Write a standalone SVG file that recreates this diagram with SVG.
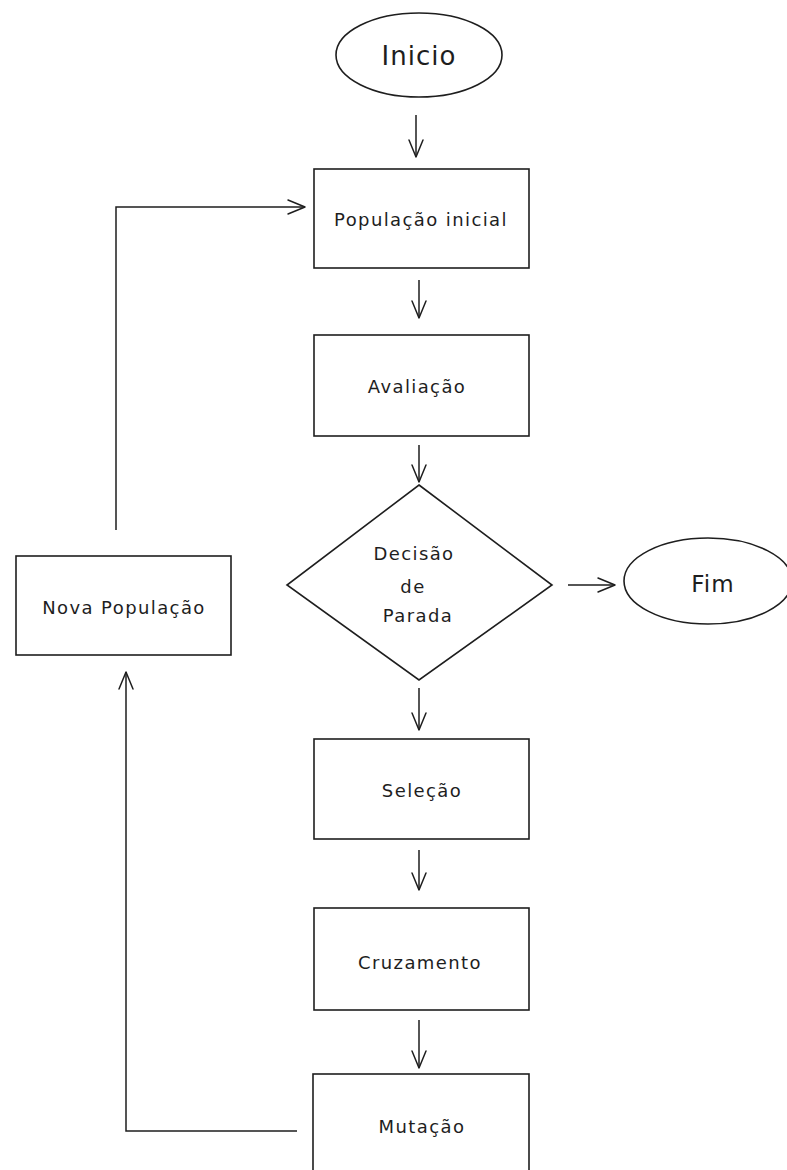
<svg xmlns="http://www.w3.org/2000/svg" width="787" height="1170" viewBox="0 0 787 1170">
<defs>
<marker id="arr" viewBox="0 0 20 20" refX="18" refY="10" markerWidth="20" markerHeight="20" markerUnits="userSpaceOnUse" orient="auto">
<path d="M1,3 L18,10 L1,17" fill="none" stroke="#1e1e1e" stroke-width="1.5" stroke-linecap="round" stroke-linejoin="round"/>
</marker>
<style>
.shape{fill:#ffffff;stroke:#1e1e1e;stroke-width:1.6}
.lbl{font-family:"DejaVu Sans","Liberation Sans",sans-serif;font-size:18px;fill:#1e1e1e;text-anchor:middle;dominant-baseline:central;letter-spacing:1.4px}
.conn{fill:none;stroke:#1e1e1e;stroke-width:1.5;marker-end:url(#arr)}
</style>
</defs>
<rect width="787" height="1170" fill="#ffffff"/>
<g id="connectors">
<line class="conn" x1="416" y1="115" x2="416" y2="157"/>
<line class="conn" x1="419" y1="280" x2="419" y2="318"/>
<line class="conn" x1="419" y1="445" x2="419" y2="482"/>
<line class="conn" x1="568" y1="585" x2="615" y2="585"/>
<line class="conn" x1="419" y1="688" x2="419" y2="730"/>
<line class="conn" x1="419" y1="850" x2="419" y2="890"/>
<line class="conn" x1="419" y1="1020" x2="419" y2="1068"/>
<polyline class="conn" points="116,530 116,207 305,207"/>
<polyline class="conn" points="297,1131 126,1131 126,672"/>
</g>
<g id="inicio">
<ellipse class="shape" cx="419" cy="55" rx="83" ry="42"/>
<text class="lbl" x="419" y="56" style="font-size:26px;letter-spacing:1px">Inicio</text>
</g>
<g id="populacao-inicial">
<rect class="shape" x="314" y="169" width="215" height="99"/>
<text class="lbl" x="421" y="219">População inicial</text>
</g>
<g id="avaliacao">
<rect class="shape" x="314" y="335" width="215" height="101"/>
<text class="lbl" x="417" y="386">Avaliação</text>
</g>
<g id="decisao">
<polygon class="shape" points="419,485 552,585 419,680 287,585"/>
<text class="lbl" x="414" y="553">Decisão</text>
<text class="lbl" x="413" y="586">de</text>
<text class="lbl" x="418" y="615">Parada</text>
</g>
<g id="fim">
<ellipse class="shape" cx="708" cy="581" rx="84" ry="43"/>
<text class="lbl" x="713" y="584" style="font-size:23px;letter-spacing:1px">Fim</text>
</g>
<g id="nova-populacao">
<rect class="shape" x="16" y="556" width="215" height="99"/>
<text class="lbl" x="124" y="607">Nova População</text>
</g>
<g id="selecao">
<rect class="shape" x="314" y="739" width="215" height="100"/>
<text class="lbl" x="422" y="790">Seleção</text>
</g>
<g id="cruzamento">
<rect class="shape" x="314" y="908" width="215" height="102"/>
<text class="lbl" x="420" y="962">Cruzamento</text>
</g>
<g id="mutacao">
<rect class="shape" x="313" y="1074" width="216" height="110"/>
<text class="lbl" x="422" y="1126">Mutação</text>
</g>
</svg>
